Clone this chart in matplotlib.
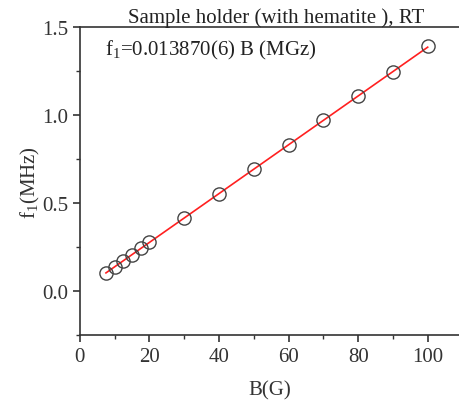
import numpy as np
import matplotlib
matplotlib.use("Agg")
import matplotlib.pyplot as plt
from matplotlib.ticker import MultipleLocator

plt.rcParams['font.family'] = ['Liberation Serif', 'DejaVu Serif']
plt.rcParams['mathtext.fontset'] = 'custom'
plt.rcParams['mathtext.rm'] = 'Liberation Serif'

field = [7.5, 10, 12.5, 15, 17.5, 20, 30, 40, 50, 60, 70, 80, 90, 100]
freq = [0.104, 0.139, 0.173, 0.207, 0.243, 0.277, 0.416, 0.555,
        0.693, 0.832, 0.971, 1.110, 1.248, 1.392]
slope = 0.013870  # fitted f1 = slope * B

fig = plt.figure(figsize=(4.59, 4.10), dpi=100)
ax = fig.add_axes([0.174, 0.180, 0.826, 0.751])

b = np.array(field)
ax.plot(b, slope * b, color='#ff2020', lw=1.2, zorder=2)
ax.plot(field, freq, 'o', mfc='none', mec='#444444', mew=1.0, ms=9.5, zorder=3)

ax.set_xlim(0, 109)
ax.set_ylim(-0.25, 1.5)
ax.xaxis.set_major_locator(MultipleLocator(20))
ax.xaxis.set_minor_locator(MultipleLocator(10))
ax.yaxis.set_major_locator(MultipleLocator(0.5))
ax.yaxis.set_minor_locator(MultipleLocator(0.25))
ax.tick_params(which='both', direction='out', labelsize=15, colors='#333333',
               top=False, right=False)
ax.tick_params(which='major', length=5, width=1.2)
ax.tick_params(which='minor', length=3, width=1.0)
for side in ['left', 'bottom', 'top']:
    ax.spines[side].set_linewidth(1.2)
    ax.spines[side].set_color('#333333')
ax.spines['right'].set_visible(False)

ax.set_xlabel('B(G)', fontsize=15, color='#333333', labelpad=10)
ax.set_ylabel(r'f$_1$(MHz)', fontsize=15, color='#333333', labelpad=0)
ax.set_title('Sample holder (with hematite ), RT', fontsize=15,
             color='#222222', pad=4, x=0.517)
ax.text(0.066, 0.965, r'f$_1$=0.013870(6) B (MGz)', transform=ax.transAxes,
        fontsize=15, color='#222222', va='top')

fig.savefig('out.png', dpi=100)
